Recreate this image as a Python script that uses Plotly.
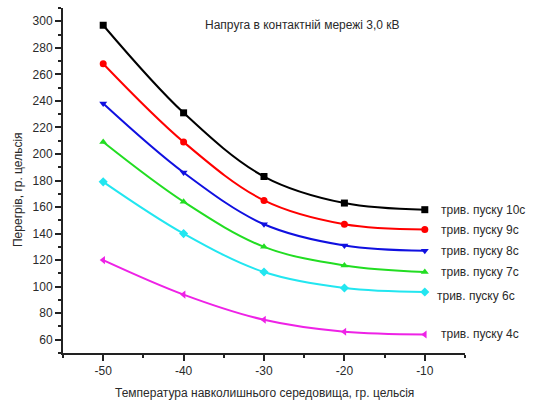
import plotly.graph_objects as go

temps = [-50, -40, -30, -20, -10]
tick_labels = ["-50", "-40", "-30", "-20", "-10"]
series_names = ["трив. пуску 10с", "трив. пуску 9с", "трив. пуску 8с",
                "трив. пуску 7с", "трив. пуску 6с", "трив. пуску 4с"]
s10 = [297, 231, 183, 163, 158]
s9 = [268, 209, 165, 147, 143]
s8 = [238, 186, 147, 131, 127]
s7 = [209, 164, 130, 116, 111]
s6 = [179, 140, 111, 99, 96]
s4 = [120, 94, 75, 66, 64]
series_values = [s10, s9, s8, s7, s6, s4]
colors = ["#000000", "#ff0000", "#1010e0", "#22dd22", "#22e6f0", "#ee22e6"]
symbols = ["square", "circle", "triangle-down", "triangle-up", "diamond", "triangle-left"]
label_offsets = [0, 0, 0, 0, -4, 0]
label_dy = [0, 0, 0, 0, -4, 0]

text_color = "#2a2a2a"
font_family = "Liberation Sans, Arial, sans-serif"

fig = go.Figure()
for name, vals, c, sym in zip(series_names, series_values, colors, symbols):
    fig.add_trace(go.Scatter(
        x=temps, y=vals, mode="lines+markers", name=name,
        line=dict(color=c, width=2, shape="spline", smoothing=1.0),
        marker=dict(color=c, symbol=sym, size=7),
        showlegend=False))

fig.update_layout(
    width=534, height=403,
    margin=dict(l=63, r=69, t=8, b=50, pad=0),
    paper_bgcolor="white", plot_bgcolor="white",
    font=dict(family=font_family, size=12, color=text_color),
)

for name, vals, off, dy in zip(series_names, series_values, label_offsets, label_dy):
    fig.add_annotation(x=temps[-1], y=vals[-1], xref="x", yref="y", text=name,
                       showarrow=False, xanchor="left", xshift=14 + off, yshift=dy,
                       font=dict(size=12, color=text_color))
fig.add_annotation(x=(302 - 63) / 402, y=(353 - 16) / 345, xref="paper", yref="paper",
                   text="Напруга в контактній мережі 3,0 кВ", showarrow=False,
                   font=dict(size=12, color=text_color))
fig.add_annotation(x=0.5, y=-40 / 345, xref="paper", yref="paper", yanchor="middle",
                   text="Температура навколишнього середовища, гр. цельсія", showarrow=False,
                   font=dict(size=12, color=text_color))
fig.add_annotation(x=-45 / 402, y=(353 - 190) / 345, xref="paper", yref="paper",
                   xanchor="center", yanchor="middle", textangle=-90,
                   text="Перегрів, гр. цельсія", showarrow=False,
                   font=dict(size=12, color=text_color))

fig.update_xaxes(range=[-55, -5], tickvals=temps, ticktext=tick_labels, showgrid=False, zeroline=False,
                 automargin=False,
                 showline=True, linecolor="#222222", linewidth=2,
                 ticks="outside", ticklen=6, tickwidth=2, tickcolor="#222222",
                 minor=dict(ticks="outside", ticklen=3, tickwidth=2, tickcolor="#222222", dtick=5, tick0=-55, showgrid=False),
                 tickfont=dict(size=12))
fig.update_yaxes(range=[50, 310], dtick=20, tick0=60, showgrid=False, zeroline=False,
                 automargin=False,
                 showline=True, linecolor="#222222", linewidth=2,
                 ticks="outside", ticklen=6, tickwidth=2, tickcolor="#222222",
                 minor=dict(ticks="outside", ticklen=3, tickwidth=2, tickcolor="#222222", dtick=10, showgrid=False),
                 tickfont=dict(size=12))

fig.write_html("out.html", config={"displayModeBar": False},
               post_script="document.body.style.margin='0';")
